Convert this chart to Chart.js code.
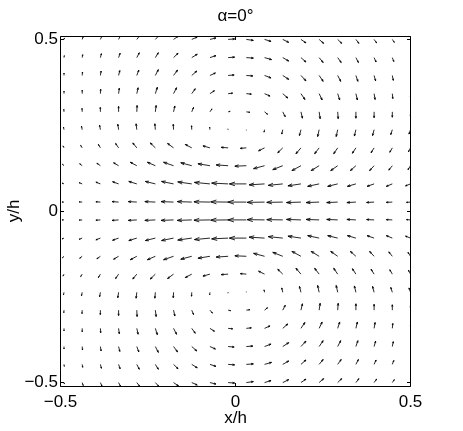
<!DOCTYPE html>
<html>
<head>
<meta charset="utf-8">
<script src="https://cdn.jsdelivr.net/npm/chart.js@4.4.1/dist/chart.umd.min.js"></script>
<style>
  body { margin: 0; background: #fff; }
</style>
</head>
<body>
<canvas id="myChart" width="463" height="431"></canvas>
<script>
// arrow tails, x/h left to right, y/h top to bottom
const gridX = [-0.49, -0.438, -0.386, -0.334, -0.282, -0.229, -0.177, -0.125, -0.073, -0.021,
               0.031, 0.083, 0.135, 0.187, 0.239, 0.292, 0.344, 0.396, 0.448, 0.5];
const gridY = [0.5, 0.447, 0.395, 0.342, 0.289, 0.237, 0.184, 0.132, 0.079, 0.026,
               -0.026, -0.079, -0.132, -0.184, -0.237, -0.289, -0.342, -0.395, -0.447, -0.5];

// velocity components, one row per gridY value
const U = [
  [0.5, 1, 1.5, 2, 3, 3.5, 5, 5.5, 6, 6.5, 7, 6.5, 6, 5, 4.5, 4, 3, 2.5, 2, 1.5],
  [0.3, 0.5, 1, 1.5, 2.5, 3, 4.5, 5.5, 6, 6.5, 7, 7, 6, 5, 4, 3.5, 2.5, 2, 1.5, 1],
  [0, 0.3, 0.7, 1.2, 2, 3, 4, 5, 5.5, 6, 6.5, 6.5, 6, 5, 4, 3, 2, 1.5, 1, 0.5],
  [0, 0, 0.3, 0.7, 1.3, 2, 3, 3.5, 4.5, 4.5, 5, 5.5, 5, 4, 3, 2, 1.5, 1, 0.5, 0.3],
  [-0.2, -0.2, -0.1, 0, 0.3, 0.8, 1.3, 1.8, 2, 2, 3.5, 3, 2.5, 1.5, 1, 0.5, 0, 0, 0, 0],
  [-0.5, -0.7, -0.8, -0.8, -0.7, -0.5, -0.3, -0.2, -0.3, -0.3, 0, -0.5, -1, -1.5, -1.5, -1.5, -1.5, -1.5, -1.5, -1.5],
  [-1, -1.5, -2, -3, -4, -5, -6, -6.5, -7, -7, -6, -6, -5, -5, -4.5, -4, -3.5, -3, -2.5, -2],
  [-1.5, -2.5, -3.5, -5, -6.5, -8, -10, -11, -12, -12, -11.5, -11, -10, -9, -8, -7, -5.5, -4.5, -3.5, -2.5],
  [-2, -3, -4.5, -6, -8, -10, -12, -14, -15.5, -16.5, -17, -15.5, -14.5, -13, -11.5, -10, -8.5, -7, -6, -5],
  [-2, -3, -4.5, -6.5, -8.5, -10.5, -12.5, -14.5, -16, -17.5, -18.5, -17.5, -16, -14.5, -13, -11, -9, -7.5, -6, -4],
  [-2, -3, -4.5, -6.5, -8.5, -10.5, -12.5, -14.5, -16, -17.5, -18.5, -17.5, -16, -14.5, -13, -11, -9, -7.5, -6, -4],
  [-2, -3, -4.5, -6, -8, -10, -12, -14, -15.5, -16.5, -17, -15.5, -14.5, -13, -11.5, -10, -8.5, -7, -6, -5],
  [-1.5, -2.5, -3.5, -5, -6.5, -8, -10, -11, -12, -12, -11.5, -11, -10, -9, -8, -7, -5.5, -4.5, -3.5, -2.5],
  [-1, -1.5, -2, -3, -4, -5, -6, -6.5, -7, -7, -6, -6, -5, -5, -4.5, -4, -3.5, -3, -2.5, -2],
  [-0.5, -0.7, -0.8, -0.8, -0.7, -0.5, -0.3, -0.2, -0.3, -0.3, 0, -0.5, -1, -1.5, -1.5, -1.5, -1.5, -1.5, -1.5, -1.5],
  [-0.2, -0.2, -0.1, 0, 0.3, 0.8, 1.3, 1.8, 2.5, 2.5, 3.5, 3, 2.5, 1.5, 1, 0.5, 0, 0, 0, 0],
  [0, 0, 0.3, 0.7, 1.3, 2, 3, 3.5, 4.5, 4.5, 5, 5.5, 5, 4, 3, 2, 1.5, 1, 0.5, 0.3],
  [0, 0.3, 0.7, 1.2, 2, 3, 4, 5, 5.5, 6, 6.5, 6.5, 6, 5, 4, 3, 2, 1.5, 1, 0.5],
  [0.3, 0.5, 1, 1.5, 2.5, 3, 4.5, 5.5, 6, 6.5, 7, 7, 6, 5, 4, 3.5, 2.5, 2, 1.5, 1],
  [0.5, 1, 1.5, 2, 3, 3.5, 5, 5.5, 6, 6.5, 7, 6.5, 6, 5, 4.5, 4, 3, 2.5, 2, 1.5]
];
const V = [
  [1.5, 3, 3.5, 4, 4, 4, 3.5, 2.5, 1.5, 0.5, -1, -2, -3, -3.5, -4, -4, -4, -3.5, -3, -2.5],
  [2, 3, 4, 4.5, 5, 5, 4.5, 3.5, 2, 0.5, -0.5, -2, -3.5, -4.5, -5, -5, -5, -4.5, -4, -3.5],
  [2.5, 3.5, 4.5, 5, 5.5, 6, 5.5, 4.5, 2.5, 0.5, -0.5, -2.5, -4, -5.5, -6, -6, -6, -5.5, -5, -4],
  [2.5, 3.5, 4.5, 5.5, 6, 6.5, 6, 5, 3, 0.5, -0.5, -2.5, -4.5, -6, -6.5, -6.5, -6.5, -6, -5, -4.5],
  [2.5, 3.5, 4.5, 5.5, 6.5, 6.5, 6, 4.5, 3, 0.5, -0.5, -2.5, -5, -6.5, -7, -7, -6.5, -6, -5.5, -4.5],
  [2.5, 3.5, 4.5, 5.5, 6, 6, 5.5, 4, 2.5, 0.8, -0.5, -2.5, -4.5, -6, -7, -7, -6.5, -6, -5, -4.5],
  [2, 2.5, 3.5, 4.5, 5, 5, 4.5, 3.5, 2, 0.5, -0.5, -3, -5, -6, -6, -6, -5.5, -5, -4.5, -4],
  [1.5, 2, 2.5, 3, 3.5, 3.5, 3.5, 3, 2, 0.8, -0.5, -3, -4, -5, -5, -5, -5, -5, -4.5, -4],
  [0.8, 1.2, 1.8, 2.2, 2.5, 2.5, 2.5, 2, 1.5, 0.8, 0, -1, -1.5, -2, -2.5, -2.5, -2.5, -2.5, -2.5, -2],
  [0, 0.2, 0.3, 0.5, 0.5, 0.5, 0.5, 0.5, 0.3, 0.2, 0, -0.3, -0.3, -0.5, -0.5, -0.5, -0.5, -0.4, -0.3, -0.3],
  [0, -0.2, -0.3, -0.5, -0.5, -0.5, -0.5, -0.5, -0.3, -0.2, 0, 0.3, 0.3, 0.5, 0.5, 0.5, 0.5, 0.4, 0.3, 0.3],
  [-0.8, -1.2, -1.8, -2.2, -2.5, -2.5, -2.5, -2, -1.5, -0.8, 0, 1, 1.5, 2, 2.5, 2.5, 2.5, 2.5, 2.5, 2],
  [-1.5, -2, -2.5, -3, -3.5, -3.5, -3.5, -3, -2, -0.8, 0.5, 3, 4, 5, 5, 5, 5, 5, 4.5, 4],
  [-2, -2.5, -3.5, -4.5, -5, -5, -4.5, -3.5, -2, -0.5, 0.5, 3, 5, 6, 6, 6, 5.5, 5, 4.5, 4],
  [-2.5, -3.5, -4.5, -5.5, -6, -6, -5.5, -4, -2.5, -0.8, 0.5, 2.5, 4.5, 6, 7, 7, 6.5, 6, 5, 4.5],
  [-2.5, -3.5, -4.5, -5.5, -6.5, -6.5, -6, -4.5, -3, -0.5, 0.5, 2.5, 5, 6.5, 7, 7, 6.5, 6, 5.5, 4.5],
  [-2.5, -3.5, -4.5, -5.5, -6, -6.5, -6, -5, -3, -0.5, 0.5, 2.5, 4.5, 6, 6.5, 6.5, 6.5, 6, 5, 4.5],
  [-2.5, -3.5, -4.5, -5, -5.5, -6, -5.5, -4.5, -2.5, -0.5, 0.5, 2.5, 4, 5.5, 6, 6, 6, 5.5, 5, 4],
  [-2, -3, -4, -4.5, -5, -5, -4.5, -3.5, -2, -0.5, 0.5, 2, 3.5, 4.5, 5, 5, 5, 4.5, 4, 3.5],
  [-1.5, -3, -3.5, -4, -4, -4, -3.5, -2.5, -1.5, -0.5, 1, 2, 3, 3.5, 4, 4, 4, 3.5, 3, 2.5]
];

const xTicks = [-0.5, 0, 0.5];
const xTickLabels = ['\u22120.5', '0', '0.5'];
const yTicks = [-0.5, 0, 0.5];
const yTickLabels = ['\u22120.5', '0', '0.5'];
const titleText = '\u03b1=0\u00b0';

// velocity units per axis unit
const arrowScale = 1 / 350;

Chart.defaults.font.family = "'Liberation Sans', Arial, Helvetica, sans-serif";
Chart.defaults.color = '#000';

// quiver arrows (tail at grid point, MATLAB style head) plus boxed axes with inward ticks
const quiver = {
  id: 'quiver',
  afterDatasetsDraw(chart) {
    const {ctx, chartArea: a, scales: {x, y}} = chart;
    ctx.save();
    ctx.beginPath();
    ctx.rect(a.left, a.top, a.right - a.left, a.bottom - a.top);
    ctx.clip();
    ctx.strokeStyle = '#000';
    ctx.lineWidth = 0.85;
    ctx.beginPath();
    for (let r = 0; r < gridY.length; r++) {
      for (let c = 0; c < gridX.length; c++) {
        const x0 = x.getPixelForValue(gridX[c]);
        const y0 = y.getPixelForValue(gridY[r]);
        const x1 = x.getPixelForValue(gridX[c] + U[r][c] * arrowScale);
        const y1 = y.getPixelForValue(gridY[r] + V[r][c] * arrowScale);
        const du = x1 - x0;
        const dv = y1 - y0;
        ctx.moveTo(x0, y0);
        ctx.lineTo(x1, y1);
        ctx.moveTo(x1 - 0.33 * (du + 0.33 * dv), y1 - 0.33 * (dv - 0.33 * du));
        ctx.lineTo(x1, y1);
        ctx.lineTo(x1 - 0.33 * (du - 0.33 * dv), y1 - 0.33 * (dv + 0.33 * du));
      }
    }
    ctx.stroke();
    ctx.restore();

    ctx.save();
    ctx.strokeStyle = '#000';
    ctx.lineWidth = 1;
    const L = Math.floor(a.left) + 0.5;
    const R = Math.floor(a.right) + 0.5;
    const T = Math.floor(a.top) + 0.5;
    const B = Math.floor(a.bottom) + 0.5;
    const tl = 3.5;
    ctx.beginPath();
    ctx.rect(L, T, R - L, B - T);
    xTicks.forEach(v => {
      const px = Math.floor(x.getPixelForValue(v)) + 0.5;
      ctx.moveTo(px, B); ctx.lineTo(px, B - tl);
      ctx.moveTo(px, T); ctx.lineTo(px, T + tl);
    });
    yTicks.forEach(v => {
      const py = Math.floor(y.getPixelForValue(v)) + 0.5;
      ctx.moveTo(L, py); ctx.lineTo(L + tl, py);
      ctx.moveTo(R, py); ctx.lineTo(R - tl, py);
    });
    ctx.stroke();
    ctx.restore();
  }
};

const points = [];
gridY.forEach(gy => gridX.forEach(gx => points.push({x: gx, y: gy})));

const ctx = document.getElementById('myChart').getContext('2d');
new Chart(ctx, {
  type: 'scatter',
  data: {
    datasets: [{
      data: points,
      pointRadius: 0,
      pointHoverRadius: 0
    }]
  },
  options: {
    responsive: false,
    animation: false,
    events: [],
    layout: { padding: { left: 8, right: 0, top: 0, bottom: 0 } },
    plugins: {
      legend: { display: false },
      tooltip: { enabled: false },
      title: {
        display: true,
        text: titleText,
        color: '#000',
        font: { size: 17, weight: 'normal' },
        padding: { top: 6, bottom: 9.6 }
      }
    },
    scales: {
      x: {
        type: 'linear',
        min: -0.5,
        max: 0.5,
        afterBuildTicks: s => { s.ticks = xTicks.map(v => ({value: v})); },
        afterFit: s => { s.height = 45; },
        ticks: {
          callback: (v, i) => xTickLabels[i],
          font: { size: 17 },
          padding: 6,
          maxRotation: 0,
          autoSkip: false
        },
        grid: { display: false, drawTicks: false },
        border: { display: false },
        title: { display: true, text: 'x/h', font: { size: 17 }, padding: { top: 0, bottom: 2 } }
      },
      y: {
        type: 'linear',
        min: -0.51,
        max: 0.51,
        afterBuildTicks: s => { s.ticks = yTicks.map(v => ({value: v})); },
        afterFit: s => { s.width = 52.5; },
        ticks: {
          callback: (v, i) => yTickLabels[i],
          font: { size: 17 },
          padding: 2.5,
          autoSkip: false
        },
        grid: { display: false, drawTicks: false },
        border: { display: false },
        title: { display: true, text: 'y/h', font: { size: 17 }, padding: { top: -4, bottom: 0 } }
      },
      y2: {
        type: 'linear',
        position: 'right',
        min: -0.51,
        max: 0.51,
        afterFit: s => { s.width = 52.5; },
        ticks: { display: false },
        grid: { display: false, drawTicks: false },
        border: { display: false }
      }
    }
  },
  plugins: [quiver]
});
</script>
</body>
</html>
